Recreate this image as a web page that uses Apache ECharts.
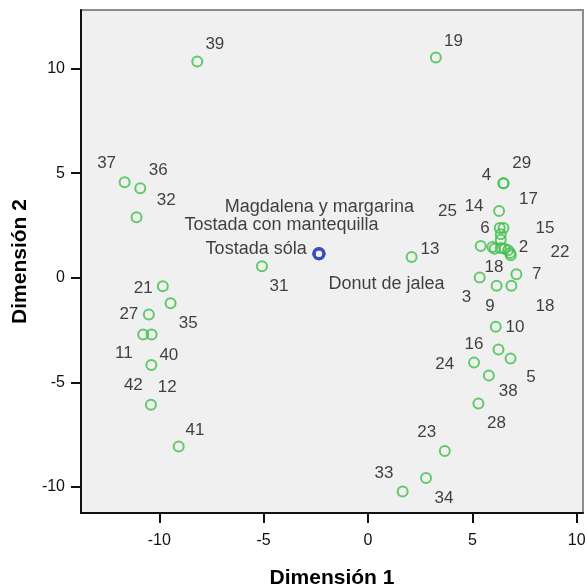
<!DOCTYPE html>
<html>
<head>
<meta charset="utf-8">
<script src="https://cdn.jsdelivr.net/npm/echarts@6/dist/echarts.min.js"></script>
<style>
html,body{margin:0;padding:0;background:#fff;}
#chart{width:585px;height:588px;}
</style>
</head>
<body>
<div id="chart"></div>
<script>
// ---- data ----
var caseIds = ['39','19','37','36','32','31','21','35','27','11','40','42','12','41',
  '13','29','4','14','6','17','15','25','18','2','22','7','3','9','18','10','16','5','24','38','28','23','34','33',
  '1','8','20','26','30'];
var caseDim1 = [-8.18,3.25,-11.66,-10.91,-11.09,-5.08,-9.83,-9.46,-10.5,-10.77,-10.37,-10.38,-10.4,-9.07,
  2.09,6.49,6.49,6.28,6.31,6.49,6.36,5.40,6.07,6.71,6.84,7.11,5.35,6.16,6.87,6.12,6.25,6.83,5.08,5.79,5.29,3.68,2.78,1.66,
  5.96,6.36,6.55,6.81,6.36];
var caseDim2 = [10.34,10.53,4.56,4.28,2.89,0.55,-0.41,-1.22,-1.76,-2.71,-2.71,-4.17,-6.07,-8.07,
  0.99,4.52,4.52,3.19,2.38,2.38,1.82,1.52,1.39,1.31,1.07,0.17,0.01,-0.39,-0.39,-2.35,-3.43,-3.86,-4.06,-4.68,-6.02,-8.28,-9.58,-10.22,
  1.47,1.42,1.39,1.18,2.08];
var itemNames = ['Magdalena y margarina','Tostada con mantequilla','Tostada sóla','Donut de jalea'];
var itemDim1 = [-2.35,-2.35,-2.35,-2.35];
var itemDim2 = [1.15,1.15,1.15,1.15];
var tickValues = [-10,-5,0,5,10];

// ---- label layout (pixel offsets, null = label hidden) ----
var caseLabelOffsets = [[17.6,-17.4],[17.7,-16],[-18,-18.7],[18,-17.7],[29.7,-17],[17,19.7],[-19.6,2.3],[17.7,19.7],[-20,0],[-19.4,19],[17.3,20.7],[-18,20],[16.4,-17.4],[16.3,-16],
  [18.3,-7.4],[18.3,-19.4],[-17,-7.7],[-25,-5],[-14.7,0.6],[25,-28.4],[44.3,-11.6],[-33.3,-34.7],[-0.7,18.4],[15.4,-3.3],[49.3,-3.3],[20.3,0],[-13.3,19.4],[-6.7,20.3],[33.6,20.3],[19.3,0],[-24.4,-5],[20.3,18.4],[-29.3,1.6],[19.3,16],[18,19.6],[-18,-18.7],[18,20],[-18.7,-18.4],
  null,null,null,null,null];
var itemLabelOffsets = [[0.4,-46.6],[-37.5,-28.3],[-62.8,-5],[67.5,30]];

var FONT = "'Liberation Sans', Arial, sans-serif";

function build(ids, xs, ys, offs, size) {
  return ids.map(function (id, i) {
    var o = offs[i];
    return {
      name: id,
      value: [xs[i], ys[i]],
      label: o ? { show: true, offset: o, fontSize: size } : { show: false }
    };
  });
}

var chart = echarts.init(document.getElementById('chart'), null, { renderer: 'canvas' });
var axisCommon = {
  type: 'value',
  splitLine: { show: false },
  axisLine: { show: true, onZero: false, lineStyle: { color: '#111', width: 2 } },
  axisTick: { show: true, length: 10, customValues: tickValues, lineStyle: { color: '#111', width: 2 } },
  nameLocation: 'middle',
  nameTextStyle: { fontFamily: FONT, fontSize: 21, fontWeight: 'bold', color: '#000' }
};
chart.setOption({
  animation: false,
  backgroundColor: '#ffffff',
  grid: { left: 81, right: 2, top: 10, bottom: 75, outerBoundsMode: 'none', containLabel: false, show: true, backgroundColor: '#f0f0f0', borderColor: '#8c8c8c', borderWidth: 2 },
  xAxis: Object.assign({}, axisCommon, {
    min: -13.75, max: 10.3,
    name: 'Dimensión 1', nameGap: 55,
    axisLabel: { customValues: tickValues, margin: 20, fontFamily: FONT, fontSize: 16, color: '#111' }
  }),
  yAxis: Object.assign({}, axisCommon, {
    min: -11.25, max: 12.8,
    name: 'Dimensión 2', nameGap: 50, nameRotate: 90,
    axisLabel: { customValues: tickValues, margin: 16, fontFamily: FONT, fontSize: 16, color: '#111' }
  }),
  series: [
    {
      type: 'scatter',
      symbol: 'circle',
      symbolSize: 10,
      itemStyle: { color: 'rgba(0,0,0,0)', borderColor: '#3fbf4a', borderWidth: 2 },
      label: { position: 'inside', align: 'center', verticalAlign: 'middle', formatter: '{b}', fontFamily: FONT, color: '#111' },
      emphasis: { disabled: true },
      data: build(caseIds, caseDim1, caseDim2, caseLabelOffsets, 17)
    },
    {
      type: 'scatter',
      symbol: 'circle',
      symbolSize: 10,
      itemStyle: { color: 'rgba(0,0,0,0)', borderColor: '#3a4fbf', borderWidth: 3 },
      label: { position: 'inside', align: 'center', verticalAlign: 'middle', formatter: '{b}', fontFamily: FONT, color: '#111' },
      emphasis: { disabled: true },
      data: build(itemNames, itemDim1, itemDim2, itemLabelOffsets, 18)
    }
  ]
});
</script>
</body>
</html>
